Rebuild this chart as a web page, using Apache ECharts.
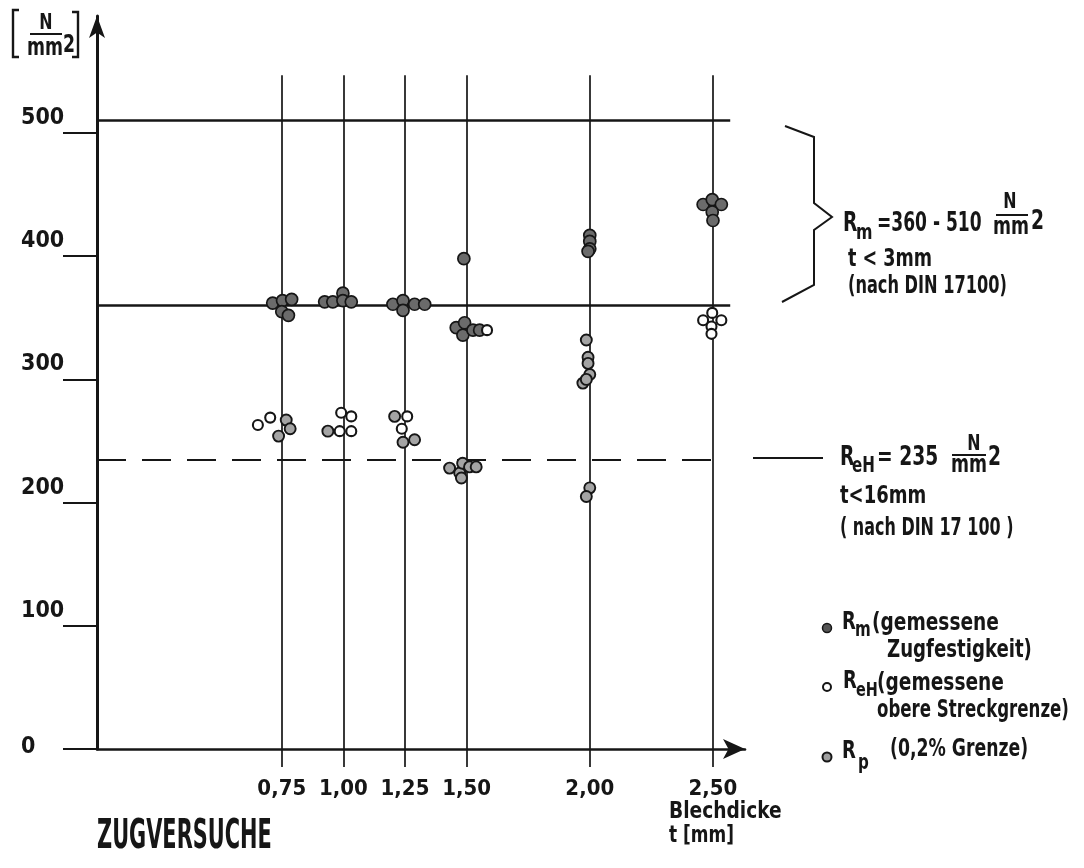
<!DOCTYPE html>
<html>
<head>
<meta charset="utf-8">
<title>Zugversuche</title>
<script src="https://cdn.jsdelivr.net/npm/echarts@6/dist/echarts.min.js"></script>
<style>
  html, body { margin: 0; padding: 0; background: #fff; }
  #chart { width: 1084px; height: 868px; }
</style>
</head>
<body>
<div id="chart"></div>
<script>
// Sheet thicknesses tested (mm) and y-axis tick values (N/mm2)
const thickness = [0.75, 1.00, 1.25, 1.50, 2.00, 2.50];
const yTicks = [0, 100, 200, 300, 400, 500];

// Rm – measured tensile strength, [thickness (mm, slightly spread), N/mm2]
const rmPoints = [
  [0.713, 362], [0.753, 364], [0.790, 365], [0.750, 355], [0.777, 352],
  [0.924, 363], [0.957, 363], [0.998, 370], [0.998, 364], [1.032, 363],
  [1.201, 361], [1.242, 364], [1.242, 356], [1.289, 361], [1.330, 361],
  [1.489, 398], [1.458, 342], [1.492, 346], [1.485, 336], [1.526, 340], [1.553, 340],
  [2.000, 417], [2.000, 412], [2.000, 406], [1.993, 404],
  [2.460, 442], [2.497, 446], [2.534, 442], [2.497, 436], [2.500, 429]
];
// ReH – measured upper yield strength
const rehPoints = [
  [0.653, 263], [0.703, 269],
  [0.985, 258], [1.032, 258], [0.991, 273], [1.032, 270],
  [1.259, 270], [1.237, 260],
  [1.583, 340],
  [2.497, 354], [2.460, 348], [2.534, 348], [2.494, 343], [2.494, 337]
];
// Rp – 0.2 % proof stress
const rpPoints = [
  [0.768, 267], [0.784, 260], [0.737, 254],
  [0.937, 258],
  [1.208, 270], [1.242, 249], [1.289, 251],
  [1.431, 228], [1.472, 224], [1.484, 232], [1.512, 229], [1.539, 229], [1.479, 220],
  [1.986, 332], [1.993, 318], [1.993, 313], [2.000, 304], [1.972, 297], [1.986, 300],
  [2.000, 212], [1.986, 205]
];
// Limits according to DIN 17100
const rmLimits = [360, 510];
const rehLimit = 235;

const FONT = '"Liberation Sans Narrow","DejaVu Sans Condensed","Roboto Condensed","Liberation Sans",sans-serif';
const INK = '#161616';
const X_MAX = 2.63;
const Y_MAX = 595;
const LINE_END = 2.57;     // right end of the horizontal limit lines
const V_TOP = 547;         // top of the vertical thickness lines

// condensed text element (scaled horizontally around its anchor)
function txt(x, y, s, size, sx, extra) {
  const el = {
    type: 'text', x: x, y: y, silent: true, z: 20,
    scaleX: sx || 0.8,
    style: {
      text: s, x: 0, y: 0, fill: INK,
      fontSize: size, fontFamily: FONT, fontWeight: 'bold',
      align: 'left', verticalAlign: 'middle'
    }
  };
  if (extra) Object.assign(el.style, extra);
  return el;
}
function seg(x1, y1, x2, y2, w) {
  return { type: 'line', silent: true, z: 20,
    shape: { x1: x1, y1: y1, x2: x2, y2: y2 },
    style: { stroke: INK, lineWidth: w || 2 } };
}
function poly(points, w) {
  return { type: 'polyline', silent: true, z: 20,
    shape: { points: points },
    style: { stroke: INK, lineWidth: w || 2, fill: null, lineJoin: 'miter' } };
}
function dot(cx, cy, r, fill, w) {
  return { type: 'circle', silent: true, z: 20,
    shape: { cx: cx, cy: cy, r: r },
    style: { fill: fill, stroke: INK, lineWidth: w || 1.5 } };
}

// Reference lines: verticals at each thickness, limit lines for Rm and ReH
const refLines = [];
thickness.forEach(t => {
  refLines.push([
    { coord: [t, 0], lineStyle: { color: INK, width: 1.7, type: 'solid' } },
    { coord: [t, V_TOP] }
  ]);
});
rmLimits.forEach(v => {
  refLines.push([
    { coord: [0, v], lineStyle: { color: INK, width: 2.6, type: 'solid' } },
    { coord: [LINE_END, v] }
  ]);
});
refLines.push([
  { coord: [0, rehLimit], lineStyle: { color: INK, width: 2.2, type: [29, 16] } },
  { coord: [thickness[thickness.length - 1], rehLimit] }
]);

const labelFont = { fontSize: 23, fontWeight: 'bold', fontFamily: FONT, color: INK };

const chart = echarts.init(document.getElementById('chart'), null, { renderer: 'canvas' });

const option = {
  animation: false,
  backgroundColor: '#ffffff',
  grid: { left: 97, right: 339, top: 16, bottom: 119, containLabel: false },
  xAxis: {
    type: 'value', min: 0, max: X_MAX,
    axisLine: {
      show: true, onZero: false,
      symbol: ['none', 'arrow'], symbolSize: [15, 22],
      lineStyle: { color: INK, width: 2.6 }
    },
    axisTick: {
      show: true, customValues: thickness, length: 18, inside: false,
      lineStyle: { color: INK, width: 1.7 }
    },
    axisLabel: {
      customValues: thickness,
      formatter: v => v.toFixed(2).replace('.', ','),
      margin: 29, fontSize: 22, fontWeight: 'bold', fontFamily: FONT, color: INK
    },
    splitLine: { show: false }
  },
  yAxis: {
    type: 'value', min: 0, max: Y_MAX,
    axisLine: {
      show: true, onZero: false,
      symbol: ['none', 'arrow'], symbolSize: [12, 22],
      lineStyle: { color: INK, width: 3 }
    },
    axisTick: {
      show: true, customValues: yTicks, length: 34, inside: false,
      lineStyle: { color: INK, width: 2.2 }
    },
    axisLabel: {
      customValues: yTicks,
      align: 'left', verticalAlign: 'middle', margin: 76,
      formatter: v => (v === 0 ? '{z|0}' : '{n|' + v + '}'),
      rich: {
        n: Object.assign({ padding: [0, 0, 30, 0] }, labelFont),
        z: Object.assign({ padding: [0, 0, 4, 0] }, labelFont)
      }
    },
    splitLine: { show: false }
  },
  series: [
    {
      name: 'Grenzen', type: 'scatter', data: [], z: 1, silent: true,
      markLine: {
        silent: true, symbol: ['none', 'none'], animation: false,
        label: { show: false },
        data: refLines
      }
    },
    {
      name: 'Rm', type: 'scatter', data: rmPoints, z: 5,
      symbol: 'circle', symbolSize: 12,
      itemStyle: { color: '#6b6b6b', borderColor: INK, borderWidth: 1.7, opacity: 1 }
    },
    {
      name: 'Rp', type: 'scatter', data: rpPoints, z: 5,
      symbol: 'circle', symbolSize: 11,
      itemStyle: { color: '#a4a4a4', borderColor: INK, borderWidth: 1.9, opacity: 1 }
    },
    {
      name: 'ReH', type: 'scatter', data: rehPoints, z: 6,
      symbol: 'circle', symbolSize: 10,
      itemStyle: { color: '#ffffff', borderColor: INK, borderWidth: 2.1, opacity: 1 }
    }
  ],
  graphic: [
    // unit of the y-axis: [N/mm2]
    poly([[19, 10], [13, 10], [13, 57], [19, 57]], 2.4),
    poly([[72, 12], [78, 12], [78, 57], [72, 57]], 2.4),
    txt(46, 23, 'N', 22, 0.8, { align: 'center' }),
    seg(30, 34, 62, 34, 2),
    txt(45, 49, 'mm', 24, 0.8, { align: 'center' }),
    txt(63, 46, '2', 24, 0.8),

    // Rm range bracket and text
    poly([[785, 126], [814, 137], [814, 203], [832, 217], [814, 230], [814, 285], [782, 302]], 2),
    txt(843, 224, 'R', 26, 0.8),
    txt(856, 233, 'm', 22, 0.8),
    txt(877, 224, '=360 - 510', 26, 0.73),
    txt(1010, 202, 'N', 22, 0.8, { align: 'center' }),
    seg(996, 215, 1028, 215, 2),
    txt(1011, 228, 'mm', 24, 0.8, { align: 'center' }),
    txt(1031, 222, '2', 26, 0.8),
    txt(848, 259, 't < 3mm', 25, 0.78),
    txt(848, 286, '(nach DIN 17100)', 25, 0.72),

    // ReH limit text
    seg(753, 458, 823, 458, 2),
    txt(840, 458, 'R', 26, 0.8),
    txt(852, 467, 'eH', 21, 0.8),
    txt(877, 458, '= 235', 26, 0.8),
    txt(974, 444, 'N', 22, 0.8, { align: 'center' }),
    seg(952, 455, 986, 455, 2),
    txt(969, 466, 'mm', 24, 0.8, { align: 'center' }),
    txt(988, 458, '2', 26, 0.8),
    txt(840, 496, 't<16mm', 25, 0.8),
    txt(840, 528, '( nach DIN 17 100 )', 25, 0.71),

    // legend
    dot(827, 628, 4.5, '#555555', 1.5),
    txt(842, 622, 'R', 25, 0.8),
    txt(855, 631, 'm', 21, 0.8),
    txt(872, 624, '(gemessene', 24, 0.86),
    txt(887, 651, 'Zugfestigkeit)', 24, 0.84),
    dot(827, 687, 4, '#ffffff', 2),
    txt(843, 681, 'R', 25, 0.8),
    txt(856, 691, 'eH', 20, 0.8),
    txt(877, 684, '(gemessene', 24, 0.86),
    txt(877, 711, 'obere Streckgrenze)', 24, 0.77),
    dot(827, 757, 4.5, '#a0a0a0', 2),
    txt(842, 751, 'R', 25, 0.8),
    txt(858, 764, 'p', 21, 0.8),
    txt(890, 750, '(0,2% Grenze)', 24, 0.8),

    // axis name and title
    txt(669, 812, 'Blechdicke', 23, 0.9),
    txt(669, 836, 't [mm]', 23, 0.82),
    txt(97, 838, 'ZUGVERSUCHE', 40, 0.58)
  ]
};

chart.setOption(option);
</script>
</body>
</html>
